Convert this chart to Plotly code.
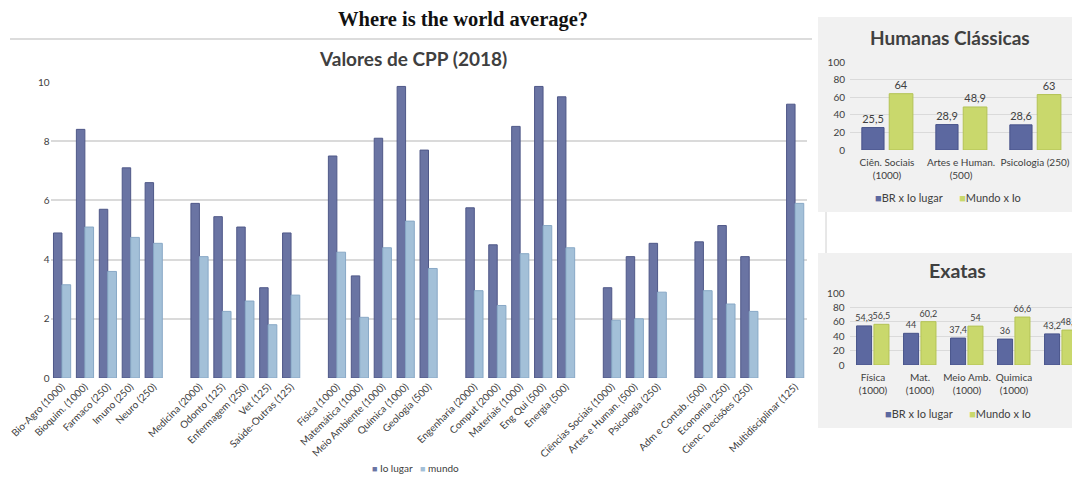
import plotly.graph_objects as go

# ---- Main chart: CPP values (2018) ----
area_groups = [
    ["Bio-Agro (1000)", "Bioquim. (1000)", "Farmaco (250)", "Imuno (250)", "Neuro (250)"],
    ["Medicina (2000)", "Odonto (125)", "Enfermagem (250)", "Vet (125)", "Saúde-Outras (125)"],
    ["Física (1000)", "Matemática (1000)", "Meio Ambiente (1000)", "Química (1000)", "Geologia (500)"],
    ["Engenharia (2000)", "Comput (2000)", "Materiais (1000)", "Eng Qui (500)", "Energia (500)"],
    ["Ciências Sociais (1000)", "Artes e Human. (500)", "Psicologia (250)"],
    ["Adm e Contab. (500)", "Economia (250)", "Cienc. Decisões (250)"],
    ["Multidisciplinar (125)"],
]
primeiro_lugar = [4.9, 8.4, 5.7, 7.1, 6.6,
                  5.9, 5.45, 5.1, 3.05, 4.9,
                  7.5, 3.45, 8.1, 9.85, 7.7,
                  5.75, 4.5, 8.5, 9.85, 9.5,
                  3.05, 4.1, 4.55,
                  4.6, 5.15, 4.1,
                  9.25]
mundo = [3.15, 5.1, 3.6, 4.75, 4.55,
         4.1, 2.25, 2.6, 1.8, 2.8,
         4.25, 2.05, 4.4, 5.3, 3.7,
         2.95, 2.45, 4.2, 5.15, 4.4,
         1.95, 2.0, 2.9,
         2.95, 2.5, 2.25,
         5.9]
main_series_names = ["Io lugar", "mundo"]
main_yticks = [0, 2, 4, 6, 8, 10]

# ---- Inset: Humanas Clássicas ----
hum_cats = ["Ciên. Sociais<br>(1000)", "Artes e Human.<br>(500)", "Psicologia (250)"]
hum_br = [25.5, 28.9, 28.6]
hum_mundo = [64, 48.9, 63]

# ---- Inset: Exatas ----
exa_cats = ["Física<br>(1000)", "Mat.<br>(1000)", "Meio Amb.<br>(1000)", "Quimica<br>(1000)", "Geologia<br>(500)"]
exa_br = [54.3, 44, 37.4, 36, 43.2]
exa_mundo = [56.5, 60.2, 54, 66.6, 48.5]
inset_series_names = ["BR x Io lugar", "Mundo x Io"]
inset_yticks = [0, 20, 40, 60, 80, 100]

# category slots with one empty slot between area groups
labels, positions = [], []
slot = 0
for grp in area_groups:
    for name in grp:
        labels.append(name)
        positions.append(slot)
        slot += 1
    slot += 1
last_slot = positions[-1]


def fmt(v):
    return f"{v:g}".replace(".", ",")


FONT = "Lato, 'Open Sans', sans-serif"
DARK = "#6a74a3"
DARK_EDGE = "#4f5888"
LIGHT = "#a3c0d8"
LIGHT_EDGE = "#88a8c6"
BR = "#5c68a0"
BR_EDGE = "#48538a"
MUNDO = "#c9d86c"
MUNDO_EDGE = "#b3c355"

fig = go.Figure()

fig.add_trace(go.Bar(
    x=positions, y=primeiro_lugar, name=main_series_names[0],
    width=0.37, offset=-0.37,
    marker=dict(color=DARK, line=dict(color=DARK_EDGE, width=1)),
    xaxis="x", yaxis="y",
))
fig.add_trace(go.Bar(
    x=positions, y=mundo, name=main_series_names[1],
    width=0.38, offset=0.0,
    marker=dict(color=LIGHT, line=dict(color=LIGHT_EDGE, width=1)),
    xaxis="x", yaxis="y",
))


def bar_text(size):
    return dict(textposition="outside",
                textfont=dict(family=FONT, size=size, color="#404040"),
                cliponaxis=False, constraintext="none")


fig.add_trace(go.Bar(
    x=list(range(len(hum_cats))), y=hum_br, name=inset_series_names[0],
    width=0.30, offset=-0.34, text=[fmt(v) for v in hum_br], **bar_text(11),
    marker=dict(color=BR, line=dict(color=BR_EDGE, width=1)),
    xaxis="x2", yaxis="y2",
))
fig.add_trace(go.Bar(
    x=list(range(len(hum_cats))), y=hum_mundo, name=inset_series_names[1],
    width=0.32, offset=0.03, text=[fmt(v) for v in hum_mundo], **bar_text(11),
    marker=dict(color=MUNDO, line=dict(color=MUNDO_EDGE, width=1)),
    xaxis="x2", yaxis="y2",
))

fig.add_trace(go.Bar(
    x=list(range(len(exa_cats))), y=exa_br, name=inset_series_names[0],
    width=0.32, offset=-0.35, text=[fmt(v) for v in exa_br], **bar_text(9),
    marker=dict(color=BR, line=dict(color=BR_EDGE, width=1)),
    xaxis="x3", yaxis="y3",
))
fig.add_trace(go.Bar(
    x=list(range(len(exa_cats))), y=exa_mundo, name=inset_series_names[1],
    width=0.32, offset=0.02, text=[fmt(v) for v in exa_mundo], **bar_text(9),
    marker=dict(color=MUNDO, line=dict(color=MUNDO_EDGE, width=1)),
    xaxis="x3", yaxis="y3",
))

W, H = 1072, 480


def px_x(p):
    return p / W


def px_y(p):
    return 1 - p / H


def key_text(names, colors, sep, inner, sq):
    parts = [f"<span style='color:{c};font-size:{sq}px'>■</span>{inner}{n}"
             for n, c in zip(names, colors)]
    return sep.join(parts)


grid = "#dadada"
tick_font = dict(family=FONT, size=10, color="#404040")
cat_font = dict(family=FONT, size=10, color="#404040")
NBSP = "\u00a0"
wide_gap = "\u2003" * 2

fig.update_layout(
    width=W, height=H,
    margin=dict(l=0, r=0, t=0, b=0, autoexpand=False),
    paper_bgcolor="white",
    plot_bgcolor="rgba(0,0,0,0)",
    separators=",.",
    barmode="group",
    showlegend=False,
    font=dict(family=FONT, color="#404040"),
    xaxis=dict(
        domain=[px_x(50.5), px_x(806.5)], range=[-0.5, last_slot + 0.5],
        tickmode="array", tickvals=positions, ticktext=labels,
        tickangle=-45, tickfont=dict(family=FONT, size=10, color="#404040"),
        showgrid=False, zeroline=False, showline=False, ticks="",
        anchor="y", automargin=False,
    ),
    yaxis=dict(
        domain=[px_y(378), px_y(82)], range=[0, 10],
        tickmode="array", tickvals=main_yticks,
        tickfont=tick_font, gridcolor=grid, gridwidth=1.5,
        zeroline=False, showline=False, anchor="x", automargin=False,
    ),
    xaxis2=dict(
        domain=[px_x(850), 1.0], range=[-0.5, len(hum_cats) - 0.5],
        tickmode="array", tickvals=list(range(len(hum_cats))), ticktext=hum_cats,
        tickangle=0, tickfont=cat_font, ticklabelstandoff=5,
        showgrid=False, zeroline=False, showline=False, ticks="",
        anchor="y2", automargin=False,
    ),
    yaxis2=dict(
        domain=[px_y(150), px_y(62)], range=[0, 100],
        tickmode="array", tickvals=inset_yticks,
        tickfont=tick_font, gridcolor=grid, ticklabelstandoff=4,
        zeroline=False, showline=False, anchor="x2", automargin=False,
    ),
    xaxis3=dict(
        domain=[px_x(849.5), 1.0], range=[-0.5, (1072 - 849.5) / 47 - 0.5],
        tickmode="array", tickvals=list(range(len(exa_cats))), ticktext=exa_cats,
        tickangle=0, tickfont=cat_font, ticklabelstandoff=5,
        showgrid=False, zeroline=False, showline=False, ticks="",
        anchor="y3", automargin=False,
    ),
    yaxis3=dict(
        domain=[px_y(365), px_y(293)], range=[0, 100],
        tickmode="array", tickvals=inset_yticks,
        tickfont=tick_font, gridcolor=grid, ticklabelstandoff=4,
        zeroline=False, showline=False, anchor="x3", automargin=False,
    ),
    shapes=[
        # inset panel backgrounds
        dict(type="rect", xref="paper", yref="paper",
             x0=px_x(818), x1=1.0, y0=px_y(212), y1=px_y(17),
             fillcolor="#f1f1f1", line=dict(width=0), layer="below"),
        dict(type="rect", xref="paper", yref="paper",
             x0=px_x(818), x1=1.0, y0=px_y(428), y1=px_y(253),
             fillcolor="#f1f1f1", line=dict(width=0), layer="below"),
        # rule under the page heading
        dict(type="line", xref="paper", yref="paper",
             x0=px_x(10), x1=px_x(812), y0=px_y(39), y1=px_y(39),
             line=dict(color="#d0d0d0", width=1.5)),
        # frame edge between the two insets
        dict(type="line", xref="paper", yref="paper",
             x0=px_x(826), x1=px_x(826), y0=px_y(253), y1=px_y(212),
             line=dict(color="#d0d0d0", width=1)),
    ],
    annotations=[
        dict(text="<b>Where is the world average?</b>", xref="paper", yref="paper",
             x=px_x(463), y=px_y(20), xanchor="center", yanchor="middle", showarrow=False,
             font=dict(family="Liberation Serif, 'Times New Roman', serif", size=20.5, color="#111111")),
        dict(text="<b>Valores de CPP (2018)</b>", xref="paper", yref="paper",
             x=px_x(413), y=px_y(58), xanchor="center", yanchor="middle", showarrow=False,
             font=dict(family=FONT, size=19, color="#404040")),
        dict(text="<b>Humanas Clássicas</b>", xref="paper", yref="paper",
             x=px_x(950), y=px_y(38), xanchor="center", yanchor="middle", showarrow=False,
             font=dict(family=FONT, size=19, color="#404040")),
        dict(text="<b>Exatas</b>", xref="paper", yref="paper",
             x=px_x(957), y=px_y(270), xanchor="center", yanchor="middle", showarrow=False,
             font=dict(family=FONT, size=19.5, color="#404040")),
        # series keys
        dict(text=key_text(main_series_names, [DARK, LIGHT], NBSP * 3, NBSP, 9),
             xref="paper", yref="paper", x=px_x(415), y=px_y(468),
             xanchor="center", yanchor="middle", showarrow=False,
             font=dict(family=FONT, size=10, color="#404040")),
        dict(text=key_text(inset_series_names, [BR, MUNDO], wide_gap, "", 11),
             xref="paper", yref="paper", x=px_x(948), y=px_y(197),
             xanchor="center", yanchor="middle", showarrow=False,
             font=dict(family=FONT, size=11, color="#404040")),
        dict(text=key_text(inset_series_names, [BR, MUNDO], wide_gap, "", 11),
             xref="paper", yref="paper", x=px_x(958), y=px_y(413),
             xanchor="center", yanchor="middle", showarrow=False,
             font=dict(family=FONT, size=11, color="#404040")),
    ],
)

fig.write_html("out.html")
